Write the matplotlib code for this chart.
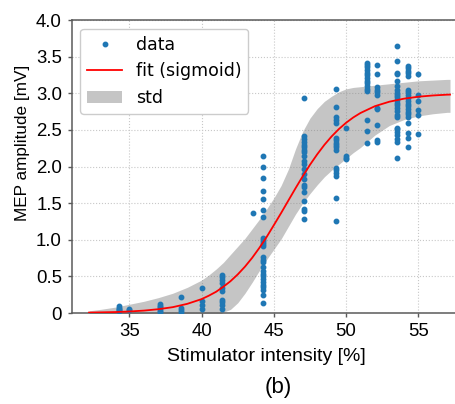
import matplotlib
matplotlib.use("Agg")
import matplotlib.pyplot as plt

# MEP amplitude [mV] per stimulator intensity [%]
intensities = [34.3, 35.0, 37.15, 38.58, 40.0, 41.42, 43.54, 44.27,
               47.12, 49.29, 50.02, 51.45, 52.15, 53.55, 54.26, 54.97]
mep_343 = [0.09, 0.07, 0.055, 0.04, 0.025]
mep_350 = [0.05, 0.035]
mep_372 = [0.12, 0.10, 0.085, 0.06, 0.03, 0.015]
mep_386 = [0.22, 0.065, 0.04, 0.018]
mep_400 = [0.34, 0.17, 0.11, 0.055]
mep_414 = [0.52, 0.49, 0.45, 0.415, 0.34, 0.305, 0.18, 0.146, 0.114, 0.055]
mep_435 = [1.37]
mep_443 = [2.14, 1.99, 1.84, 1.67, 1.55, 1.41, 1.31, 1.03, 1.0, 0.97, 0.94,
           0.92, 0.76, 0.73, 0.70, 0.63, 0.58, 0.53, 0.50, 0.46, 0.42, 0.38,
           0.35, 0.31, 0.24, 0.14]
mep_471 = [2.93, 2.415, 2.37, 2.33, 2.30, 2.27, 2.23, 2.20, 2.15, 2.08, 2.03,
           1.96, 1.90, 1.83, 1.75, 1.72, 1.65, 1.525, 1.42, 1.39, 1.29]
mep_493 = [3.06, 2.81, 2.67, 2.63, 2.60, 2.39, 2.36, 2.32, 2.29, 2.26, 2.22,
           1.98, 1.95, 1.91, 1.87, 1.575, 1.25]
mep_500 = [2.52, 2.14, 2.12, 2.10]
mep_514 = [3.42, 3.39, 3.36, 3.32, 3.28, 3.25, 3.21, 3.17, 3.14, 3.10, 3.06,
           3.03, 2.63, 2.48, 2.32]
mep_521 = [3.39, 3.26, 3.09, 3.05, 3.02, 2.98, 2.80, 2.78, 2.57, 2.36, 2.33]
mep_535 = [3.65, 3.44, 3.28, 3.27, 3.17, 3.10, 3.05, 3.01, 2.98, 2.95, 2.91,
           2.87, 2.84, 2.80, 2.76, 2.71, 2.67, 2.53, 2.51, 2.47, 2.43, 2.37,
           2.34, 2.11]
mep_543 = [3.37, 3.34, 3.31, 3.28, 3.24, 3.05, 3.02, 2.98, 2.94, 2.90, 2.86,
           2.83, 2.79, 2.75, 2.72, 2.68, 2.60, 2.46, 2.39, 2.26]
mep_550 = [3.27, 2.98, 2.89, 2.77, 2.70, 2.45]

# fitted sigmoid and the std band, read at these intensities
fit_x = [32.2, 33, 34, 35, 36, 37, 38, 39, 40, 40.5, 41, 41.5, 42, 42.5,
         43, 43.5, 44, 44.5, 45, 45.5, 46, 46.5, 47, 47.5, 48, 48.5, 49,
         49.5, 50, 50.5, 51, 52, 53, 54, 55, 56, 57, 57.2]
fit_y = [0.006, 0.009, 0.013, 0.021, 0.033, 0.052, 0.08, 0.125, 0.19, 0.237,
         0.29, 0.358, 0.435, 0.527, 0.633, 0.754, 0.89, 1.038, 1.2, 1.364,
         1.534, 1.703, 1.867, 2.023, 2.166, 2.296, 2.411, 2.511, 2.597, 2.67,
         2.731, 2.824, 2.885, 2.926, 2.953, 2.97, 2.981, 2.982]
std_hi = [0.03, 0.05, 0.08, 0.12, 0.16, 0.21, 0.27, 0.35, 0.45, 0.52, 0.60,
          0.69, 0.80, 0.91, 1.02, 1.15, 1.28, 1.42, 1.57, 1.74, 1.96, 2.24,
          2.48, 2.66, 2.79, 2.89, 2.96, 3.02, 3.06, 3.08, 3.09, 3.11, 3.13,
          3.15, 3.17, 3.18, 3.19, 3.19]
std_lo = [-0.05, -0.08, -0.12, -0.15, -0.18, -0.2, -0.2, -0.18, -0.15, -0.1,
          -0.05, 0.01, 0.05, 0.14, 0.27, 0.42, 0.58, 0.73, 0.87, 1.01, 1.18,
          1.35, 1.50, 1.63, 1.75, 1.86, 1.95, 2.03, 2.11, 2.19, 2.26, 2.43,
          2.56, 2.64, 2.69, 2.72, 2.74, 2.74]

yticks = [0, 0.5, 1.0, 1.5, 2.0, 2.5, 3.0, 3.5, 4.0]
ytick_labels = ["0", "0.5", "1.0", "1.5", "2.0", "2.5", "3.0", "3.5", "4.0"]
xticks = [35, 40, 45, 50, 55]

columns = [mep_343, mep_350, mep_372, mep_386, mep_400, mep_414, mep_435,
           mep_443, mep_471, mep_493, mep_500, mep_514, mep_521, mep_535,
           mep_543, mep_550]
pts_x = []
pts_y = []
for x, vals in zip(intensities, columns):
    pts_x += [x] * len(vals)
    pts_y += vals

label_font = "Liberation Sans"
spine_col = "#5a5a5a"

fig = plt.figure(figsize=(4.56, 4.04), dpi=100)
ax = fig.add_axes([0.1572, 0.2252, 0.855, 0.7252])

ax.grid(True, color="#c8c8c8", linestyle=":", linewidth=0.8, zorder=0)
ax.set_axisbelow(True)

ax.plot(pts_x, pts_y, "o", color="#1f77b4", markersize=3.2, label="data",
        zorder=3)
ax.plot(fit_x, fit_y, "-", color="red", linewidth=1.3, label="fit (sigmoid)",
        zorder=4)
ax.fill_between(fit_x, std_lo, std_hi, color="gray", alpha=0.45,
                linewidth=0, label="std", zorder=2)

ax.set_xlim(31, 58)
ax.set_ylim(0, 4.0)
ax.set_xticks(xticks)
ax.set_xticklabels([str(t) for t in xticks], fontfamily=label_font,
                   fontsize=13.4)
ax.set_yticks(yticks)
ax.set_yticklabels(ytick_labels, fontfamily=label_font, fontsize=13.4)
ax.tick_params(length=3, width=1.0, color=spine_col, pad=4)

for s in ax.spines.values():
    s.set_color(spine_col)
    s.set_linewidth(1.1)

ax.set_xlabel("Stimulator intensity [%]", fontfamily=label_font,
              fontsize=14, labelpad=6)
ax.set_ylabel("MEP amplitude [mV]", fontfamily=label_font, fontsize=12.3)
ax.yaxis.set_label_coords(-0.108, 0.58)

ax.legend(loc="upper left", numpoints=1,
          prop={"family": "DejaVu Sans", "size": 12.5},
          fancybox=True, framealpha=1.0, edgecolor="#cccccc")

fig.text(278 / 456, 1 - 388 / 404, "(b)", ha="center", va="center",
         fontfamily=label_font, fontsize=16)

fig.savefig("out.png", dpi=100)
